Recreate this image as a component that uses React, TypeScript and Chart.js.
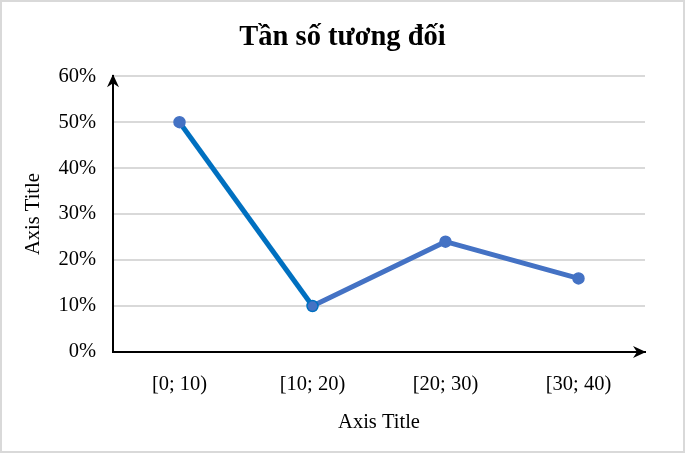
import React, { useEffect, useRef } from "react";
import { Chart, registerables } from "chart.js";

Chart.register(...registerables);

const categories = ["[0; 10)", "[10; 20)", "[20; 30)", "[30; 40)"];
const relativeFrequency = [0.5, 0.1, 0.24, 0.16];
const yTicks = [0, 0.1, 0.2, 0.3, 0.4, 0.5, 0.6];
const titleText = "Tần số tương đối";
const xAxisTitle = "Axis Title";
const yAxisTitle = "Axis Title";

const FONT = "'Liberation Serif', 'Times New Roman', serif";

const framePlugin = {
  id: "frame",
  beforeDraw(chart: any) {
    const { ctx, width, height } = chart;
    ctx.save();
    ctx.fillStyle = "#ffffff";
    ctx.fillRect(0, 0, width, height);
    ctx.strokeStyle = "#D9D9D9";
    ctx.lineWidth = 2;
    ctx.strokeRect(1, 1, width - 2, height - 2);
    ctx.restore();
  },
  afterDraw(chart: any) {
    const { ctx, chartArea } = chart;
    const { left, right, top, bottom } = chartArea;
    ctx.save();
    ctx.fillStyle = "#000";
    // x arrow
    ctx.beginPath();
    ctx.moveTo(right + 1, bottom);
    ctx.lineTo(right - 12, bottom - 6);
    ctx.lineTo(right - 8, bottom);
    ctx.lineTo(right - 12, bottom + 6);
    ctx.closePath();
    ctx.fill();
    // y arrow
    ctx.beginPath();
    ctx.moveTo(left, top - 2);
    ctx.lineTo(left - 6, top + 11);
    ctx.lineTo(left, top + 7);
    ctx.lineTo(left + 6, top + 11);
    ctx.closePath();
    ctx.fill();
    ctx.restore();
  },
};

export default function App() {
  const ref = useRef<HTMLCanvasElement | null>(null);
  useEffect(() => {
    document.body.style.margin = "0";
    const canvas = ref.current!;
    const chart = new Chart(canvas, {
      type: "line",
      data: {
        labels: categories,
        datasets: [
          {
            data: relativeFrequency,
            borderColor: "#4472C4",
            borderWidth: 5,
            segment: {
              borderColor: (c: any) => (c.p0DataIndex === 0 ? "#0070C0" : "#4472C4"),
            },
            pointRadius: 5.5,
            pointBorderWidth: 1.5,
            pointBackgroundColor: "#4472C4",
            pointBorderColor: ["#4472C4", "#0070C0", "#4472C4", "#4472C4"],
            tension: 0,
            fill: false,
            yAxisID: "y",
          },
        ],
      },
      options: {
        responsive: false,
        animation: false,
        devicePixelRatio: 1,
        layout: { padding: 0 },
        plugins: {
          legend: { display: false },
          tooltip: { enabled: false },
          title: {
            display: true,
            text: titleText,
            color: "#000",
            font: { family: FONT, size: 28.5, weight: "bold" },
            padding: { top: 21, bottom: 21 },
          },
        },
        scales: {
          x: {
            offset: true,
            grid: { display: false },
            border: { display: true, color: "#000", width: 2 },
            ticks: { color: "#000", font: { family: FONT, size: 20.5 }, padding: 12.7, maxRotation: 0 },
            title: {
              display: true,
              text: xAxisTitle,
              color: "#000",
              font: { family: FONT, size: 20.5 },
              padding: { top: 0, bottom: 17.7 },
            },
            afterFit: (s: any) => {
              s.height = 101;
            },
          },
          y: {
            position: "left",
            min: 0,
            max: 0.6,
            afterBuildTicks: (s: any) => {
              s.ticks = yTicks.map((v) => ({ value: v }));
            },
            grid: { color: "#D9D9D9", lineWidth: 2, drawTicks: false },
            border: { display: true, color: "#000", width: 2 },
            ticks: {
              color: "#000",
              font: { family: FONT, size: 20.5 },
              padding: 17,
              callback: (v: any) => Math.round(Number(v) * 100) + "%",
            },
            title: {
              display: true,
              text: yAxisTitle,
              color: "#000",
              font: { family: FONT, size: 20.5 },
              padding: { top: 21.7, bottom: 0 },
            },
            afterFit: (s: any) => {
              s.width = 113;
            },
          },
          yRight: {
            position: "right",
            min: 0,
            max: 0.6,
            grid: { display: false, drawOnChartArea: false },
            border: { display: false },
            ticks: { display: false },
            afterFit: (s: any) => {
              s.width = 40;
            },
          },
        },
      },
      plugins: [framePlugin],
    });
    return () => chart.destroy();
  }, []);
  return <canvas ref={ref} width={685} height={453} style={{ display: "block" }} />;
}
